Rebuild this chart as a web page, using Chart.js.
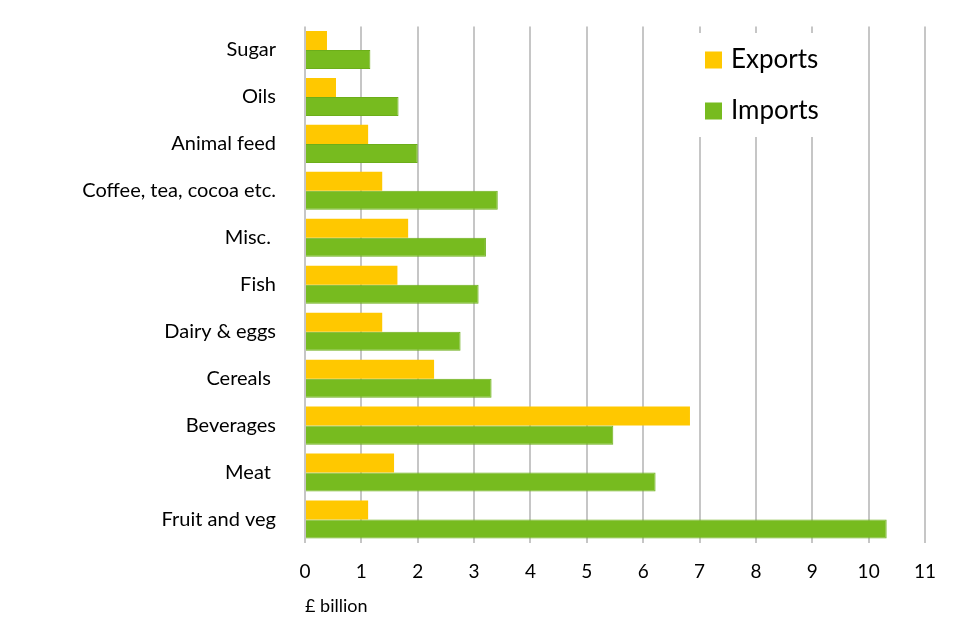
<!DOCTYPE html>
<html>
<head>
<meta charset="utf-8">
<script src="https://cdn.jsdelivr.net/npm/chart.js@4"></script>
<style>
	html, body { margin: 0; padding: 0; background: #fff; }
	#wrap { width: 960px; height: 640px; }
</style>
</head>
<body>
<div id="wrap"><canvas id="chart"></canvas></div>
<script>
var categories = ["Sugar", "Oils", "Animal feed", "Coffee, tea, cocoa etc.", "Misc. ", "Fish", "Dairy & eggs", "Cereals ", "Beverages", "Meat ", "Fruit and veg"];
var exportsData = [0.39, 0.55, 1.12, 1.37, 1.83, 1.64, 1.37, 2.29, 6.83, 1.58, 1.12];
var importsData = [1.16, 1.66, 2.0, 3.42, 3.21, 3.08, 2.76, 3.31, 5.47, 6.22, 10.32];
var xTicks = [0, 1, 2, 3, 4, 5, 6, 7, 8, 9, 10, 11];

var FONT = "Lato, 'Open Sans', sans-serif";

// legend drawn on top of the grid, with a white box behind it
var boxLegend = {
	id: "boxLegend",
	afterDraw: function (chart) {
		var ctx = chart.ctx;
		ctx.save();
		ctx.fillStyle = "#ffffff";
		ctx.fillRect(690, 33, 160, 104);
		ctx.font = "26px " + FONT;
		ctx.textBaseline = "middle";
		ctx.textAlign = "left";
		chart.data.datasets.forEach(function (ds, i) {
			var y = 60 + i * 51;
			ctx.fillStyle = ds.backgroundColor;
			ctx.fillRect(705, y - 8.5, 17, 17);
			ctx.fillStyle = "#000000";
			ctx.fillText(ds.label, 731, y);
		});
		ctx.restore();
	},
};

new Chart(document.getElementById("chart"), {
	type: "bar",
	data: {
		labels: categories,
		datasets: [
			{
				label: "Exports",
				data: exportsData,
				backgroundColor: "#FFC800",
				borderWidth: 0,
				categoryPercentage: 0.81,
				barPercentage: 1.0,
			},
			{
				label: "Imports",
				data: importsData,
				backgroundColor: "#77BB1F",
				borderColor: "#6CAE1A",
				borderWidth: 1,
				categoryPercentage: 0.81,
				barPercentage: 1.0,
			},
		],
	},
	options: {
		indexAxis: "y",
		responsive: true,
		maintainAspectRatio: false,
		animation: false,
		layout: {
			padding: { top: 26.5, right: 35, bottom: 0, left: 0 },
		},
		plugins: {
			legend: { display: false },
			tooltip: { enabled: false },
		},
		scales: {
			x: {
				type: "linear",
				min: 0,
				max: 11,
				afterBuildTicks: function (scale) {
					scale.ticks = xTicks.map(function (v) {
						return { value: v };
					});
				},
				afterFit: function (scale) {
					scale.height = 97;
				},
				border: { display: false },
				grid: {
					display: true,
					drawTicks: false,
					color: "#c6c6c6",
					lineWidth: 2,
				},
				ticks: {
					padding: 17,
					color: "#000000",
					font: { family: FONT, size: 19 },
				},
				title: {
					display: true,
					text: "£ billion",
					align: "start",
					color: "#000000",
					font: { family: FONT, size: 18 },
					padding: { top: 0, bottom: 23 },
				},
			},
			y: {
				afterFit: function (scale) {
					scale.width = 305;
					scale.paddingTop = 0;
					scale.paddingBottom = 0;
				},
				border: { display: false },
				grid: { display: false, drawTicks: false },
				ticks: {
					padding: 29,
					color: "#000000",
					font: { family: FONT, size: 20 },
				},
			},
		},
	},
	plugins: [boxLegend],
});
</script>
</body>
</html>
